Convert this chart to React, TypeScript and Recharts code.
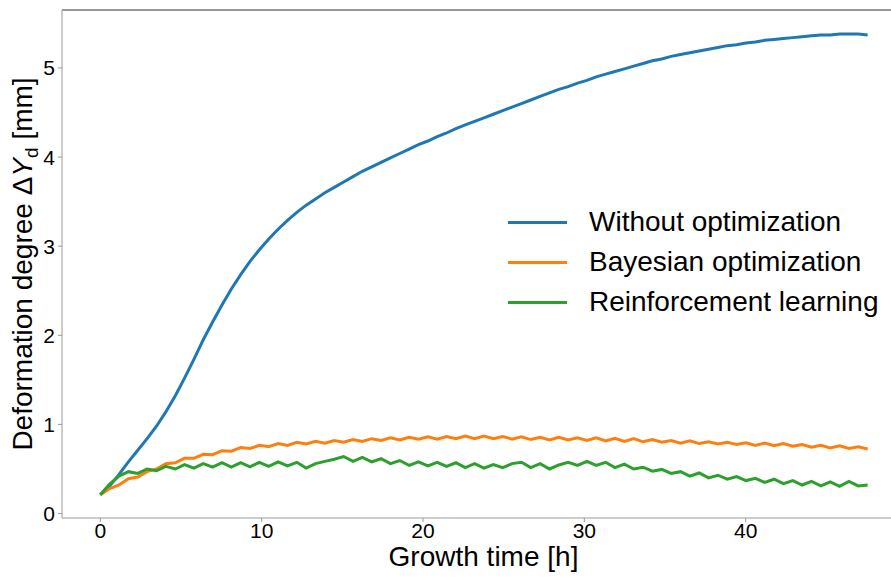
import React from 'react';
import { LineChart, Line, XAxis, YAxis, ReferenceLine } from 'recharts';

// growth time [h]
const hours = [
  0, 0.58, 1.16, 1.74, 2.32, 2.9, 3.48, 4.06, 4.64, 5.22, 5.8, 6.38, 6.96, 7.54, 8.12, 8.7,
  9.28, 9.86, 10.44, 11.02, 11.6, 12.18, 12.76, 13.34, 13.92, 14.5, 15.08, 15.66, 16.24, 16.82,
  17.4, 17.98, 18.56, 19.14, 19.72, 20.3, 20.88, 21.46, 22.04, 22.62, 23.2, 23.78, 24.36, 24.94,
  25.52, 26.1, 26.68, 27.26, 27.84, 28.42, 29, 29.58, 30.16, 30.74, 31.32, 31.9, 32.48, 33.06,
  33.64, 34.22, 34.8, 35.38, 35.96, 36.54, 37.12, 37.7, 38.28, 38.86, 39.44, 40.02, 40.6, 41.18,
  41.76, 42.34, 42.92, 43.5, 44.08, 44.66, 45.24, 45.82, 46.4, 46.98, 47.56,
];

const withoutOpt = [
  0.21, 0.31, 0.44, 0.58, 0.71, 0.84, 0.98, 1.14, 1.32, 1.52, 1.73, 1.95, 2.15, 2.34, 2.52, 2.68,
  2.83, 2.96, 3.08, 3.19, 3.29, 3.38, 3.46, 3.53, 3.6, 3.66, 3.72, 3.78, 3.84, 3.89,
  3.94, 3.99, 4.04, 4.09, 4.14, 4.18, 4.23, 4.27, 4.32, 4.36, 4.4, 4.44, 4.48, 4.52,
  4.56, 4.6, 4.64, 4.68, 4.72, 4.76, 4.79, 4.83, 4.86, 4.9, 4.93, 4.96, 4.99, 5.02,
  5.05, 5.08, 5.1, 5.13, 5.15, 5.17, 5.19, 5.21, 5.23, 5.25, 5.26, 5.28, 5.29, 5.31,
  5.32, 5.33, 5.34, 5.35, 5.36, 5.37, 5.37, 5.38, 5.38, 5.38, 5.37,
];

const bayesian = [
  0.21, 0.28, 0.32, 0.39, 0.41, 0.47, 0.5, 0.56, 0.57, 0.62, 0.62, 0.665, 0.66, 0.705, 0.7, 0.74,
  0.73, 0.765, 0.75, 0.785, 0.765, 0.8, 0.78, 0.81, 0.79, 0.82, 0.8, 0.83, 0.81, 0.84,
  0.82, 0.85, 0.825, 0.855, 0.835, 0.86, 0.835, 0.865, 0.84, 0.87, 0.84, 0.87, 0.84, 0.865,
  0.835, 0.86, 0.83, 0.855, 0.825, 0.855, 0.825, 0.85, 0.82, 0.85, 0.815, 0.845, 0.81, 0.84,
  0.805, 0.83, 0.8, 0.82, 0.79, 0.815, 0.785, 0.805, 0.78, 0.8, 0.775, 0.795, 0.765, 0.79,
  0.76, 0.785, 0.755, 0.775, 0.745, 0.765, 0.735, 0.76, 0.73, 0.75, 0.725,
];

const reinforcement = [
  0.21, 0.33, 0.42, 0.47, 0.45, 0.5, 0.48, 0.53, 0.5, 0.55, 0.51, 0.56, 0.52, 0.57, 0.52, 0.57,
  0.525, 0.575, 0.53, 0.58, 0.535, 0.575, 0.51, 0.56, 0.585, 0.61, 0.64, 0.585, 0.63, 0.58,
  0.615, 0.56, 0.595, 0.54, 0.58, 0.535, 0.575, 0.53, 0.57, 0.515, 0.56, 0.51, 0.55, 0.515,
  0.56, 0.575, 0.515, 0.56, 0.5, 0.545, 0.575, 0.54, 0.585, 0.54, 0.575, 0.515, 0.555, 0.5,
  0.52, 0.475, 0.495, 0.45, 0.47, 0.42, 0.455, 0.4, 0.43, 0.385, 0.415, 0.37, 0.395, 0.35,
  0.385, 0.335, 0.37, 0.32, 0.36, 0.31, 0.355, 0.305, 0.36, 0.31, 0.32,
];

const xTicks = [0, 10, 20, 30, 40];
const yTicks = [0, 1, 2, 3, 4, 5];
const yDomain = [-0.05, 5.65];

const series = [
  { key: 'without', name: 'Without optimization', color: '#1f77b4' },
  { key: 'bayes', name: 'Bayesian optimization', color: '#ff7f0e' },
  { key: 'rl', name: 'Reinforcement learning', color: '#2ca02c' },
];

const data = hours.map((t, i) => ({
  t,
  without: withoutOpt[i],
  bayes: bayesian[i],
  rl: reinforcement[i],
}));

const FONT = '"Liberation Sans", Arial, sans-serif';

const XTitle = (props: any) => {
  const { x, y, width } = props.viewBox;
  return (
    <text x={x + width / 2} y={y + 48} textAnchor="middle" fontSize={28} fontFamily={FONT} fill="#000">
      Growth time [h]
    </text>
  );
};

const YTitle = (props: any) => {
  const { x, y, height } = props.viewBox;
  const cx = x + 32;
  const cy = y + height / 2;
  return (
    <text
      x={cx}
      y={cy}
      transform={`rotate(-90, ${cx}, ${cy})`}
      textAnchor="middle"
      fontSize={28}
      fontFamily={FONT}
      fill="#000"
    >
      Deformation degree Δ<tspan fontStyle="italic">Y</tspan>
      <tspan dy={6} fontSize={19}>d</tspan>
      <tspan dy={-6}> [mm]</tspan>
    </text>
  );
};

const LegendBox = () => (
  <div
    style={{
      position: 'absolute',
      left: 508,
      top: 202,
      fontFamily: FONT,
      fontSize: 28,
      color: '#000',
    }}
  >
    {series.map((s) => (
      <div key={s.key} style={{ display: 'flex', alignItems: 'center', height: 40 }}>
        <span style={{ display: 'inline-block', width: 59, height: 3, background: s.color, marginRight: 22 }} />
        <span style={{ whiteSpace: 'nowrap' }}>{s.name}</span>
      </div>
    ))}
  </div>
);

export default function App() {
  return (
    <div
      style={{
        position: 'absolute',
        left: 0,
        top: 0,
        width: 891,
        height: 577,
        overflow: 'hidden',
        background: '#fff',
      }}
    >
      <LineChart width={910} height={577} data={data} margin={{ top: 10, right: 5, bottom: 0, left: 0 }}>
        <XAxis
          dataKey="t"
          type="number"
          domain={[-2.375, 49.875]}
          allowDataOverflow
          ticks={xTicks}
          height={59}
          stroke="#999"
          tickSize={4}
          tickMargin={1}
          tick={{ fontSize: 21, fill: '#000', fontFamily: FONT }}
          label={<XTitle />}
        />
        <YAxis
          type="number"
          domain={yDomain}
          allowDataOverflow
          ticks={yTicks}
          width={62}
          stroke="#999"
          tickSize={4}
          tickMargin={3}
          tick={{ fontSize: 21, fill: '#000', fontFamily: FONT }}
          label={<YTitle />}
        />
        <ReferenceLine y={yDomain[1]} stroke="#333" strokeWidth={1.2} />
        {series.map((s) => (
          <Line
            key={s.key}
            dataKey={s.key}
            name={s.name}
            type="linear"
            stroke={s.color}
            strokeWidth={3}
            dot={false}
            activeDot={false}
            isAnimationActive={false}
          />
        ))}
      </LineChart>
      <LegendBox />
    </div>
  );
}
